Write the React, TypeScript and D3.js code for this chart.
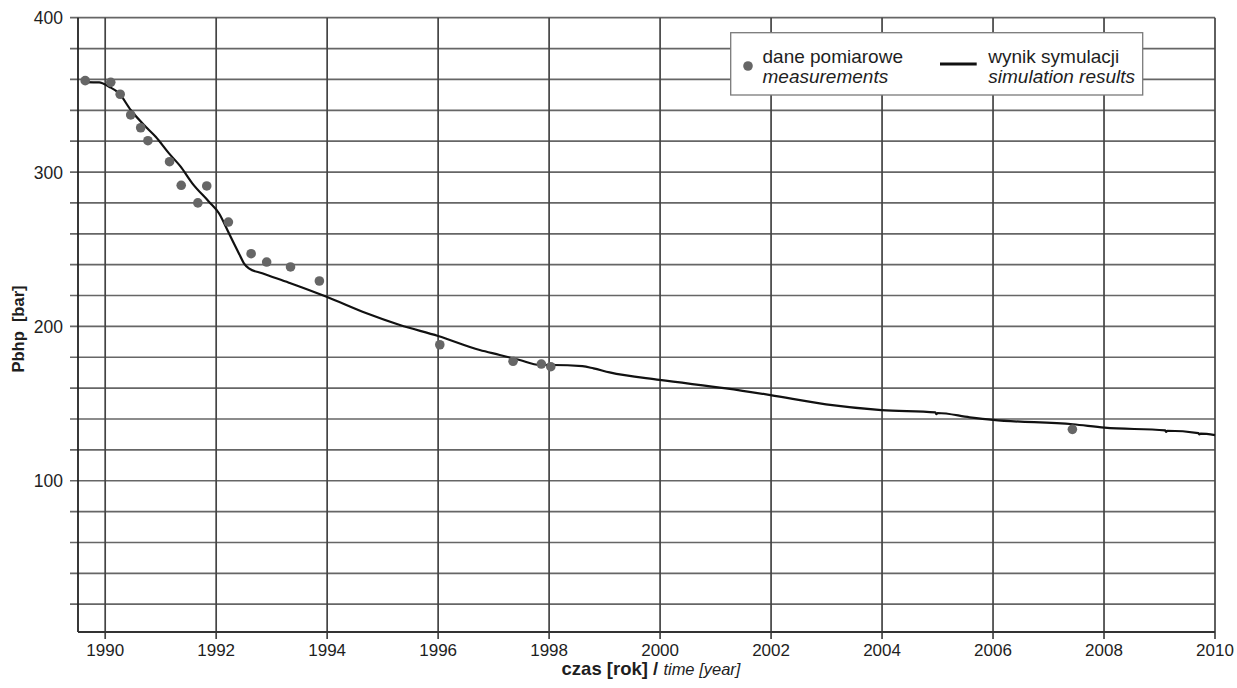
import React from "react";
import * as d3 from "d3";

// Measured bottom-hole pressure (year, bar)
const measYears = [1989.64, 1990.1, 1990.27, 1990.46, 1990.64, 1990.77, 1991.16, 1991.37, 1991.67, 1991.83, 1992.22, 1992.63, 1992.91, 1993.34, 1993.86, 1996.03, 1997.35, 1997.86, 1998.03, 2007.43];
const measValues = [359.2, 358.1, 350.4, 337, 328.7, 320.3, 306.7, 291.4, 280, 291, 267.6, 247.1, 241.7, 238.5, 229.4, 188.1, 177.4, 175.6, 173.9, 133.3];

// Simulated bottom-hole pressure (year, bar)
const simYears = [1989.64, 1989.89, 1990.07, 1990.25, 1990.46, 1990.73, 1990.91, 1991.15, 1991.36, 1991.57, 1991.87, 1992.05, 1992.23, 1992.41, 1992.5, 1992.59, 1992.83, 1993.31, 1993.67, 1993.99, 1994.71, 1995.31, 1996.0, 1996.75, 1997.11, 1997.47, 1997.83, 1998.07, 1998.6, 1998.8, 1999.09, 1999.99, 2001.19, 2001.99, 2002.99, 2003.99, 2004.96, 2004.98, 2005.0, 2005.58, 2006.0, 2007.44, 2008.01, 2009.1, 2009.12, 2009.14, 2009.7, 2009.72, 2009.74, 2010.0];
const simValues = [358.3, 358.1, 355.3, 351, 340.2, 329.4, 322.9, 312.1, 303.5, 292.7, 280.8, 273.3, 260.3, 247.3, 240.9, 237.6, 234.4, 228.3, 223.6, 219.2, 208.5, 200.9, 193.8, 184.7, 181.5, 178.2, 175, 175, 174.2, 172.8, 170.2, 165.3, 159.9, 155.5, 149.5, 145.8, 144.3, 143.2, 143.9, 141.1, 139.4, 136.6, 134.4, 132.6, 131.7, 132.4, 130.8, 130.0, 130.5, 129.6];

const yearTicks = [1990, 1992, 1994, 1996, 1998, 2000, 2002, 2004, 2006, 2008, 2010];
const pressureTicks = [100, 200, 300, 400];
const pressureGrid = d3.range(20, 401, 20);

const W = 1237;
const H = 688;
const left = 78;
const right = 1215;
const top = 17.7;
const bottom = 632;

const FONT = "'Liberation Sans', Arial, Helvetica, sans-serif";
const GRID = "#666";
const INK = "#1e1e1e";

export default function App() {
  const x = d3.scaleLinear().domain([1989.51, 2010]).range([left, right]);
  const y = d3.scaleLinear().domain([2, 400]).range([bottom, top]);

  const sim = simYears.map((t, i) => [t, simValues[i]] as [number, number]);
  const line = d3
    .line<[number, number]>()
    .x((d) => x(d[0]))
    .y((d) => y(d[1]))
    .curve(d3.curveMonotoneX);

  return (
    <svg
      width={W}
      height={H}
      viewBox={`0 0 ${W} ${H}`}
      style={{ position: "absolute", left: 0, top: 0, background: "#fff" }}
      fontFamily={FONT}
    >
      <rect x={0} y={0} width={W} height={H} fill="#fff" />

      {/* horizontal grid with left tick stubs */}
      {pressureGrid.map((v) => (
        <line key={`h${v}`} x1={left - 8} x2={right} y1={y(v)} y2={y(v)} stroke={GRID} strokeWidth={1.7} />
      ))}

      {/* vertical grid with bottom tick stubs */}
      {yearTicks.map((t) => (
        <line key={`v${t}`} x1={x(t)} x2={x(t)} y1={y(400)} y2={bottom + 7} stroke={"#444"} strokeWidth={1.7} />
      ))}

      {/* axis frame */}
      <line x1={left} x2={left} y1={y(400)} y2={bottom} stroke="#222" strokeWidth={1.8} />
      <line x1={left} x2={right} y1={bottom} y2={bottom} stroke="#333" strokeWidth={1.8} />

      {/* y tick labels */}
      {pressureTicks.map((v) => (
        <text key={`yl${v}`} x={63} y={y(v) + 6.5} textAnchor="end" fontSize={17.5} fill={INK}>
          {v}
        </text>
      ))}

      {/* x tick labels */}
      {yearTicks.map((t) => (
        <text key={`xl${t}`} x={x(t)} y={655.5} textAnchor="middle" fontSize={17} fill={INK}>
          {t}
        </text>
      ))}

      {/* simulation curve */}
      <path d={line(sim) ?? ""} fill="none" stroke="#111" strokeWidth={2.2} strokeLinejoin="round" />

      {/* measurements */}
      {measYears.map((t, i) => (
        <circle key={`m${i}`} cx={x(t)} cy={y(measValues[i])} r={4.8} fill="#666" />
      ))}

      {/* legend */}
      <g>
        <rect x={730.7} y={32.7} width={412} height={62.3} fill="#fff" stroke="#7a7a7a" strokeWidth={1.3} />
        <circle cx={748} cy={66} r={4.8} fill="#666" />
        <text x={762.5} y={63.3} fontSize={19} fill={INK}>dane pomiarowe</text>
        <text x={762.5} y={83.3} fontSize={19} fontStyle="italic" fill={INK}>measurements</text>
        <line x1={940} x2={976.7} y1={64} y2={64} stroke="#111" strokeWidth={3} />
        <text x={988.3} y={63.3} fontSize={19} fill={INK}>wynik symulacji</text>
        <text x={988.3} y={83.3} fontSize={19} fontStyle="italic" fill={INK}>simulation results</text>
      </g>

      {/* axis titles */}
      <text x={651} y={675} textAnchor="middle" fill={INK}>
        <tspan fontSize={18.5} fontWeight="bold">czas [rok] / </tspan>
        <tspan fontSize={16.5} fontStyle="italic">time [year]</tspan>
      </text>
      <text
        transform={`translate(23.5, 329) rotate(-90)`}
        textAnchor="middle"
        fontSize={16.5}
        fontWeight="bold"
        fill={INK}
        style={{ whiteSpace: "pre" }}
      >
        {"Pbhp  [bar]"}
      </text>
    </svg>
  );
}
